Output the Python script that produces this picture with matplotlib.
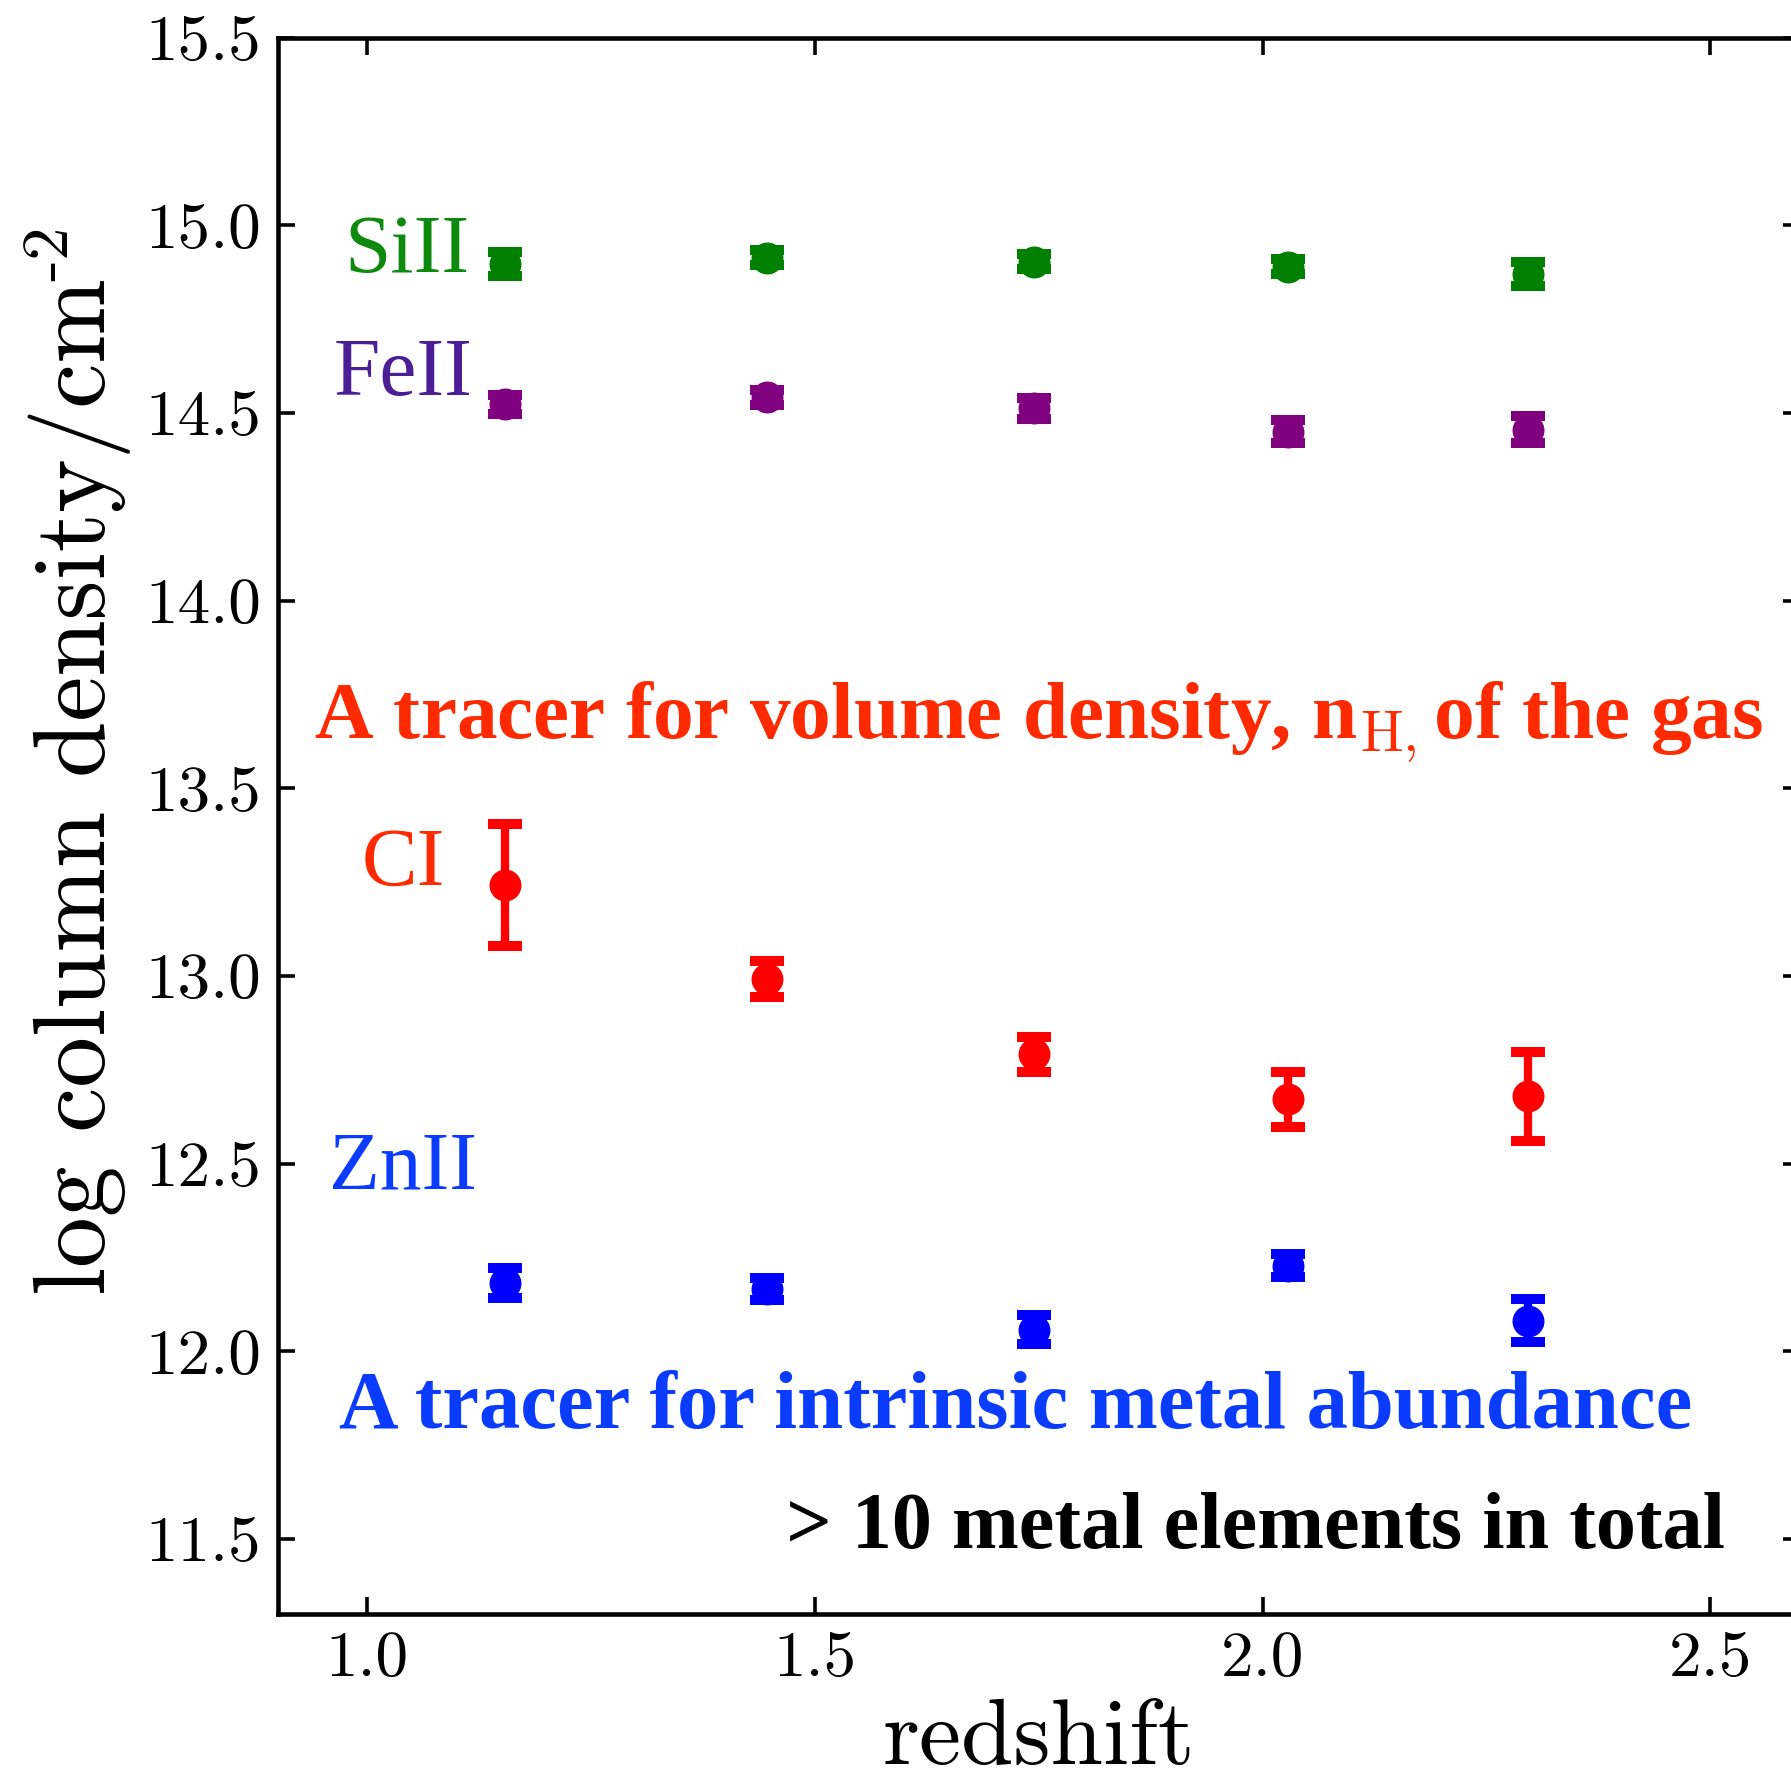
import matplotlib
matplotlib.use("Agg")
import matplotlib.pyplot as plt

plt.rcParams['mathtext.fontset'] = 'cm'

# ---- data ----
redshift = [1.154, 1.446, 1.745, 2.028, 2.296]

si2 = [14.898, 14.914, 14.903, 14.890, 14.871]
si2_err = [0.032, 0.020, 0.020, 0.020, 0.032]

fe2 = [14.523, 14.542, 14.512, 14.450, 14.455]
fe2_err = [0.026, 0.020, 0.028, 0.031, 0.036]

c1 = [13.242, 12.992, 12.791, 12.671, 12.679]
c1_err = [0.162, 0.047, 0.047, 0.074, 0.119]

zn2 = [12.182, 12.166, 12.058, 12.228, 12.082]
zn2_err = [0.040, 0.029, 0.038, 0.031, 0.057]

series = [
    ("SiII", si2, si2_err, "green", "#0d8a0d", (0.975, 14.876)),
    ("FeII", fe2, fe2_err, "purple", "#4b1e96", (0.962, 14.548)),
    ("CI", c1, c1_err, "red", "#ff2a00", (0.994, 13.242)),
    ("ZnII", zn2, zn2_err, "blue", "#0a3cff", (0.957, 12.434)),
]

xticks = [1.0, 1.5, 2.0, 2.5]
yticks = [11.5, 12.0, 12.5, 13.0, 13.5, 14.0, 14.5, 15.0, 15.5]

fig = plt.figure(figsize=(17.91, 17.76), dpi=100)
ax = fig.add_axes([0.155, 0.0912, 0.850, 0.8876])

for name, vals, errs, mcol, tcol, pos in series:
    ax.errorbar(redshift, vals, yerr=errs, fmt='o', color=mcol, ms=22,
                elinewidth=6, capsize=12, capthick=7.2, zorder=3)
    ax.text(pos[0], pos[1], name, color=tcol, fontsize=60,
            family='Liberation Serif', ha='left', va='baseline')

ax.text(0.941, 13.634, r"A tracer for volume density, n$_{\mathrm{H,}}$of the gas",
        color='#ff2a00', fontsize=58.5, family='Liberation Serif', weight='bold',
        ha='left', va='baseline')
ax.text(0.969, 11.795, "A tracer for intrinsic metal abundance",
        color='#0a3cff', fontsize=59.5, family='Liberation Serif', weight='bold',
        ha='left', va='baseline')
ax.text(1.468, 11.475, "> 10 metal elements in total",
        color='black', fontsize=57.8, family='Liberation Serif', weight='bold',
        ha='left', va='baseline')

ax.set_xlim(0.9, 2.6)
ax.set_ylim(11.3, 15.5)
ax.set_xticks(xticks)
ax.set_yticks(yticks)
ax.set_xticklabels([f"{v:.1f}" for v in xticks], family='cmr10', fontsize=47)
ax.set_yticklabels([f"{v:.1f}" for v in yticks], family='cmr10', fontsize=47)
ax.tick_params(direction='in', length=12, width=2.6, top=True, right=True, pad=12)

for sp in ax.spines.values():
    sp.set_linewidth(3.3)

ax.set_xlabel("redshift", family='cmr10', fontsize=68)
ax.set_ylabel("log column density/cm", family='cmr10', fontsize=73)
ax.xaxis.set_label_coords(0.5, -0.054)
ax.yaxis.set_label_coords(-0.096, 0.525)

# superscript "-2" with a short hyphen, placed at the end of the y label
fig.canvas.draw()
bb = ax.yaxis.label.get_window_extent(fig.canvas.get_renderer())
fig.text(bb.x0 - 8, bb.y1 - 3, "-2", family='cmr10', fontsize=48, rotation=90,
         ha='left', va='bottom', transform=None)

fig.savefig("out.png", dpi=100)
